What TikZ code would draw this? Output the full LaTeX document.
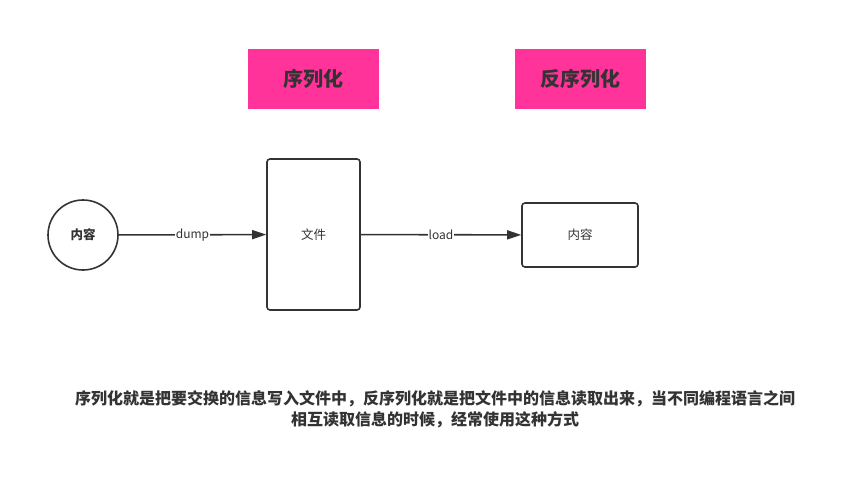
\documentclass[tikz,border=0pt]{standalone}
\usepackage{fontspec}
\setmainfont{Noto Sans CJK SC}
\usetikzlibrary{arrows.meta}
\definecolor{lc}{HTML}{333333}
\definecolor{pinkbg}{HTML}{FF3399}
\tikzset{
  titlebox/.style={fill=pinkbg, minimum width=131pt, minimum height=60pt, inner sep=0pt, text=lc, font=\fontsize{20}{24}\selectfont\bfseries},
  shapebox/.style={draw=lc, line width=1.6pt, rounded corners=3pt, inner sep=0pt, text=lc, font=\fontsize{12.5}{15}\selectfont},
  conn/.style={draw=lc, line width=1.6pt, -{Triangle[length=14pt,width=9pt]}},
  lbl/.style={fill=white, inner sep=0.5pt, text=lc, font=\fontsize{12}{14}\selectfont},
}
\begin{document}
\begin{tikzpicture}[x=1pt,y=-1pt]
\useasboundingbox (0,0) rectangle (843,487);
\node[titlebox] (t1) at (313.5,79) {序列化};
\node[titlebox] (t2) at (580.5,79) {反序列化};
\node[draw=lc, line width=1.6pt, circle, minimum size=70pt, inner sep=0pt, text=lc, font=\fontsize{12.5}{15}\selectfont\bfseries] (c) at (83,235) {内容};
\node[shapebox, minimum width=93pt, minimum height=151pt] (f) at (313.5,234.5) {文件};
\node[shapebox, minimum width=116pt, minimum height=64pt] (r) at (580,235) {内容};
\draw[conn] (c) -- node[lbl] {dump} (f);
\draw[conn] (f) -- node[lbl] {load} (r);
\node[align=center, text=lc, font=\fontsize{16}{21}\selectfont\bfseries] (txt) at (435,409.5) {序列化就是把要交换的信息写入文件中，反序列化就是把文件中的信息读取出来，当不同编程语言之间\\相互读取信息的时候，经常使用这种方式};
\end{tikzpicture}
\end{document}
